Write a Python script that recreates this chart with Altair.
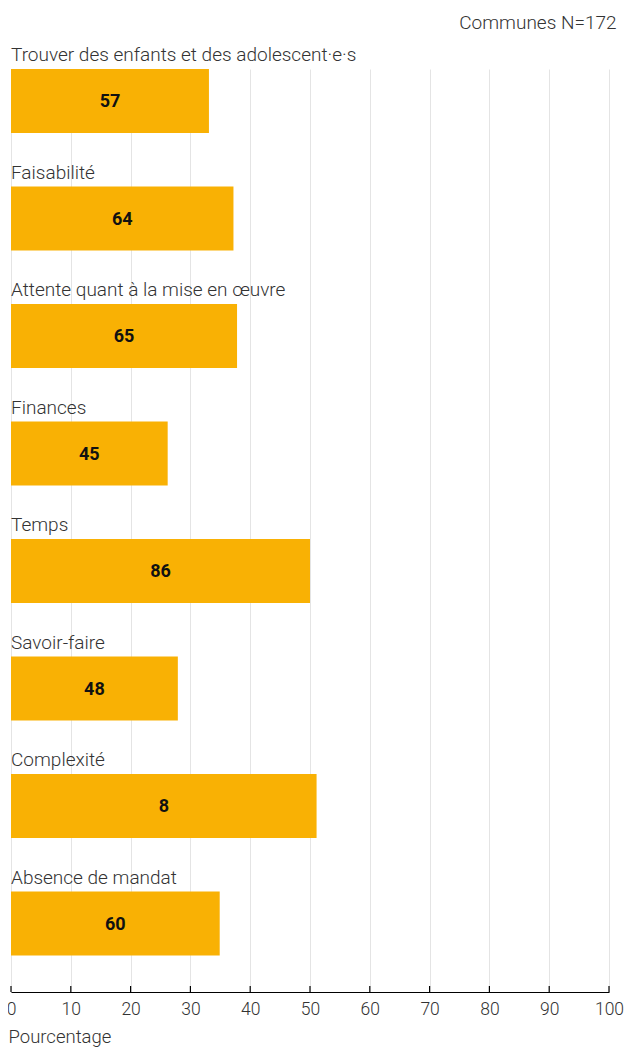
import altair as alt
import pandas as pd

categories = [
    "Trouver des enfants et des adolescent·e·s",
    "Faisabilité",
    "Attente quant à la mise en œuvre",
    "Finances",
    "Temps",
    "Savoir-faire",
    "Complexité",
    "Absence de mandat",
]
percent = [33.1, 37.2, 37.8, 26.2, 50.0, 27.9, 51.1, 34.9]
counts = ["57", "64", "65", "45", "86", "48", "8", "60"]
tick_values = [0, 10, 20, 30, 40, 50, 60, 70, 80, 90, 100]

df = pd.DataFrame({"cat": categories, "pct": percent, "n": counts})
df["mid"] = df["pct"] / 2
ticks_df = pd.DataFrame({"t": tick_values})

FONT = "Roboto"
TXT = "#333333"
W = 598
H = 923

xscale = alt.Scale(domain=[0, 100], nice=False)
yscale = alt.Scale(domain=categories, paddingInner=0.455, paddingOuter=0.155, align=0)

base = alt.Chart(df)

bars = base.mark_bar(color="#F9B104").encode(
    x=alt.X(
        "pct:Q",
        scale=xscale,
        axis=alt.Axis(
            values=tick_values,
            title="Pourcentage",
            titleFont=FONT,
            titleFontSize=18.5,
            titleFontWeight=300,
            titleColor=TXT,
            titleAnchor="start",
            titleAlign="left",
            titleBaseline="alphabetic",
            titleX=-3,
            titleY=50,
            labelFont=FONT,
            labelFontSize=17.5,
            labelFontWeight=300,
            labelColor=TXT,
            labelPadding=8,
            labelFlush=False,
            ticks=False,
            domainColor="#000000",
            domainWidth=1.2,
            gridColor="#E4E4E4",
            gridWidth=1,
        ),
    ),
    y=alt.Y("cat:N", scale=yscale, axis=None, sort=categories),
)

tickmarks = alt.Chart(ticks_df).mark_rule(color="#000000", strokeWidth=1.2).encode(
    x=alt.X("t:Q", scale=xscale),
    y=alt.value(H - 6),
    y2=alt.value(H),
)

values = base.mark_text(font=FONT, fontSize=18, fontWeight="bold", color="#111111", baseline="middle", dy=1).encode(
    x=alt.X("mid:Q", scale=xscale),
    y=alt.Y("cat:N", scale=yscale, sort=categories),
    text="n:N",
)

labels = base.mark_text(
    font=FONT, fontSize=19, fontWeight=300, color=TXT, align="left", baseline="alphabetic", dy=-8
).encode(
    x=alt.value(0),
    y=alt.Y("cat:N", scale=yscale, sort=categories, bandPosition=0),
    text="cat:N",
)

chart = (
    alt.layer(bars, tickmarks, values, labels)
    .properties(
        width=W,
        height=H,
        autosize=alt.AutoSizeParams(type="none"),
        padding={"left": 3, "top": 61, "right": 15, "bottom": 58},
        title=alt.TitleParams(
            "Communes N=172",
            anchor="end",
            font=FONT,
            fontSize=19,
            fontWeight=300,
            color=TXT,
            baseline="alphabetic",
            offset=15,
            dy=17,
            dx=-7,
        ),
    )
    .configure_view(stroke=None)
)

chart.save("out.html", embed_options={"renderer": "svg", "actions": False})
